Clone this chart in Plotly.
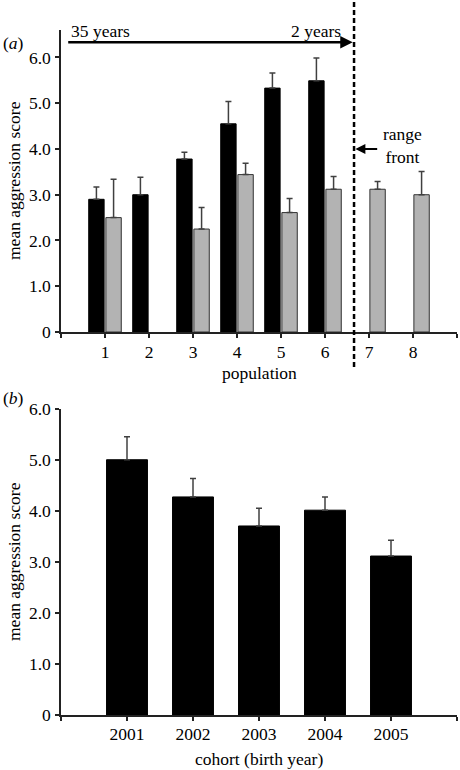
import plotly.graph_objects as go

# ---- data ----
populations = [1, 2, 3, 4, 5, 6, 7, 8]
pop_tick_labels = ["", "1", "2", "3", "4", "5", "6", "7", "8", ""]
black_pops = [1, 2, 3, 4, 5, 6]
black_means = [2.90, 3.00, 3.78, 4.55, 5.33, 5.49]
black_err = [0.27, 0.38, 0.15, 0.49, 0.33, 0.50]
gray_pops = [1, 3, 4, 5, 6, 7, 8]
gray_means = [2.50, 2.25, 3.44, 2.61, 3.12, 3.12, 3.00]
gray_err = [0.84, 0.47, 0.25, 0.31, 0.28, 0.17, 0.51]

cohorts = [2001, 2002, 2003, 2004, 2005]
cohort_means = [5.01, 4.28, 3.71, 4.02, 3.12]
cohort_err = [0.45, 0.36, 0.35, 0.26, 0.31]

y_ticks = [0, 1, 2, 3, 4, 5, 6]
y_tick_labels = ["0", "1.0", "2.0", "3.0", "4.0", "5.0", "6.0"]

FONT = "Liberation Serif, Times New Roman, DejaVu Serif, serif"
FS = 17.5
W, H = 460, 770
ML, MR, MT, MB = 61, 3, 30, 55
PH = H - MT - MB

def py(p):
    return (H - MB - p) / PH

def px(p):
    return (p - ML) / (W - ML - MR)

fig = go.Figure()

fig.add_trace(go.Bar(
    x=black_pops, y=black_means, width=0.35, offset=-0.37,
    marker=dict(color="black", line=dict(color="black", width=1)),
    error_y=dict(type="data", array=black_err, arrayminus=[0]*len(black_err), symmetric=False,
                 color="#404040", thickness=1.5, width=3),
    xaxis="x", yaxis="y", showlegend=False))
fig.add_trace(go.Bar(
    x=gray_pops, y=gray_means, width=0.35, offset=0.02,
    marker=dict(color="#b3b3b3", line=dict(color="#333333", width=1)),
    error_y=dict(type="data", array=gray_err, arrayminus=[0]*len(gray_err), symmetric=False,
                 color="#404040", thickness=1.5, width=3),
    xaxis="x", yaxis="y", showlegend=False))
fig.add_trace(go.Bar(
    x=cohorts, y=cohort_means, width=0.62,
    marker=dict(color="black", line=dict(color="black", width=1)),
    error_y=dict(type="data", array=cohort_err, arrayminus=[0]*len(cohort_err), symmetric=False,
                 color="#404040", thickness=1.5, width=3),
    xaxis="x2", yaxis="y2", showlegend=False))

axis_common = dict(showline=True, linecolor="#222", linewidth=1.5, ticks="outside",
                   ticklen=4, tickwidth=1.5, tickcolor="#222", showgrid=False, zeroline=False,
                   tickfont=dict(family=FONT, size=FS, color="black"))

fig.update_layout(
    width=W, height=H, margin=dict(l=ML, r=MR, t=MT, b=MB),
    plot_bgcolor="white", paper_bgcolor="white",
    font=dict(family=FONT, size=FS, color="black"),
    xaxis=dict(domain=[0, 1], range=[0, 9], tickvals=list(range(10)), ticktext=pop_tick_labels,
               anchor="y", ticklabelstandoff=-1, **axis_common),
    yaxis=dict(domain=[py(332), 1], range=[0, 6.6], tickvals=y_ticks, ticktext=y_tick_labels,
               anchor="x", ticklabelstandoff=1, **axis_common),
    xaxis2=dict(domain=[0, 1], range=[2000, 2006], tickvals=list(range(2000, 2007)),
                ticktext=[""] + [str(c) for c in cohorts] + [""], anchor="y2",
                ticklabelstandoff=-2, **axis_common),
    yaxis2=dict(domain=[0, py(409.3)], range=[0, 6], tickvals=y_ticks, ticktext=y_tick_labels,
                anchor="x2", ticklabelstandoff=1, **axis_common),
)

# dashed range-front line
fig.add_shape(type="line", xref="x", yref="paper", x0=6.66, x1=6.66, y0=py(367), y1=py(0),
              line=dict(color="black", width=2.5, dash="5px,3px"))

ann = []
# top arrow
ann.append(dict(x=6.63, y=6.33, ax=0.13, ay=6.33, xref="x", yref="y", axref="x", ayref="y",
                showarrow=True, arrowhead=2, arrowsize=1, arrowwidth=2.5, arrowcolor="black", text=""))
ann.append(dict(x=px(69), y=py(31), xref="paper", yref="paper", text="35 years",
                showarrow=False, xanchor="left", yanchor="middle", font=dict(size=FS)))
ann.append(dict(x=px(343), y=py(31), xref="paper", yref="paper", text="2 years",
                showarrow=False, xanchor="right", yanchor="middle", font=dict(size=FS)))
# range front
ann.append(dict(x=6.69, y=4.0, ax=7.22, ay=4.0, xref="x", yref="y", axref="x", ayref="y",
                showarrow=True, arrowhead=2, arrowsize=1, arrowwidth=2, arrowcolor="black", text=""))
ann.append(dict(x=px(402), y=py(146), xref="paper", yref="paper", text="range<br>front",
                showarrow=False, xanchor="center", yanchor="middle", align="center", font=dict(size=FS)))
# panel labels
ann.append(dict(x=px(1), y=py(43), xref="paper", yref="paper", text="(<i>a</i>)",
                showarrow=False, xanchor="left", yanchor="middle", font=dict(size=FS)))
ann.append(dict(x=px(1), y=py(398), xref="paper", yref="paper", text="(<i>b</i>)",
                showarrow=False, xanchor="left", yanchor="middle", font=dict(size=FS)))
# axis titles
ann.append(dict(x=px(14), y=py(181), xref="paper", yref="paper", text="mean aggression score",
                textangle=-90, showarrow=False, xanchor="center", yanchor="middle", font=dict(size=FS)))
ann.append(dict(x=px(14), y=py(562), xref="paper", yref="paper", text="mean aggression score",
                textangle=-90, showarrow=False, xanchor="center", yanchor="middle", font=dict(size=FS)))
ann.append(dict(x=px(259), y=py(373), xref="paper", yref="paper", text="population",
                showarrow=False, xanchor="center", yanchor="middle", font=dict(size=FS)))
ann.append(dict(x=px(259), y=py(759), xref="paper", yref="paper", text="cohort (birth year)",
                showarrow=False, xanchor="center", yanchor="middle", font=dict(size=FS)))
fig.update_layout(annotations=ann)

fig.write_html("out.html", config={"displayModeBar": False},
               post_script="document.body.style.margin='0';document.body.style.overflow='hidden';")
